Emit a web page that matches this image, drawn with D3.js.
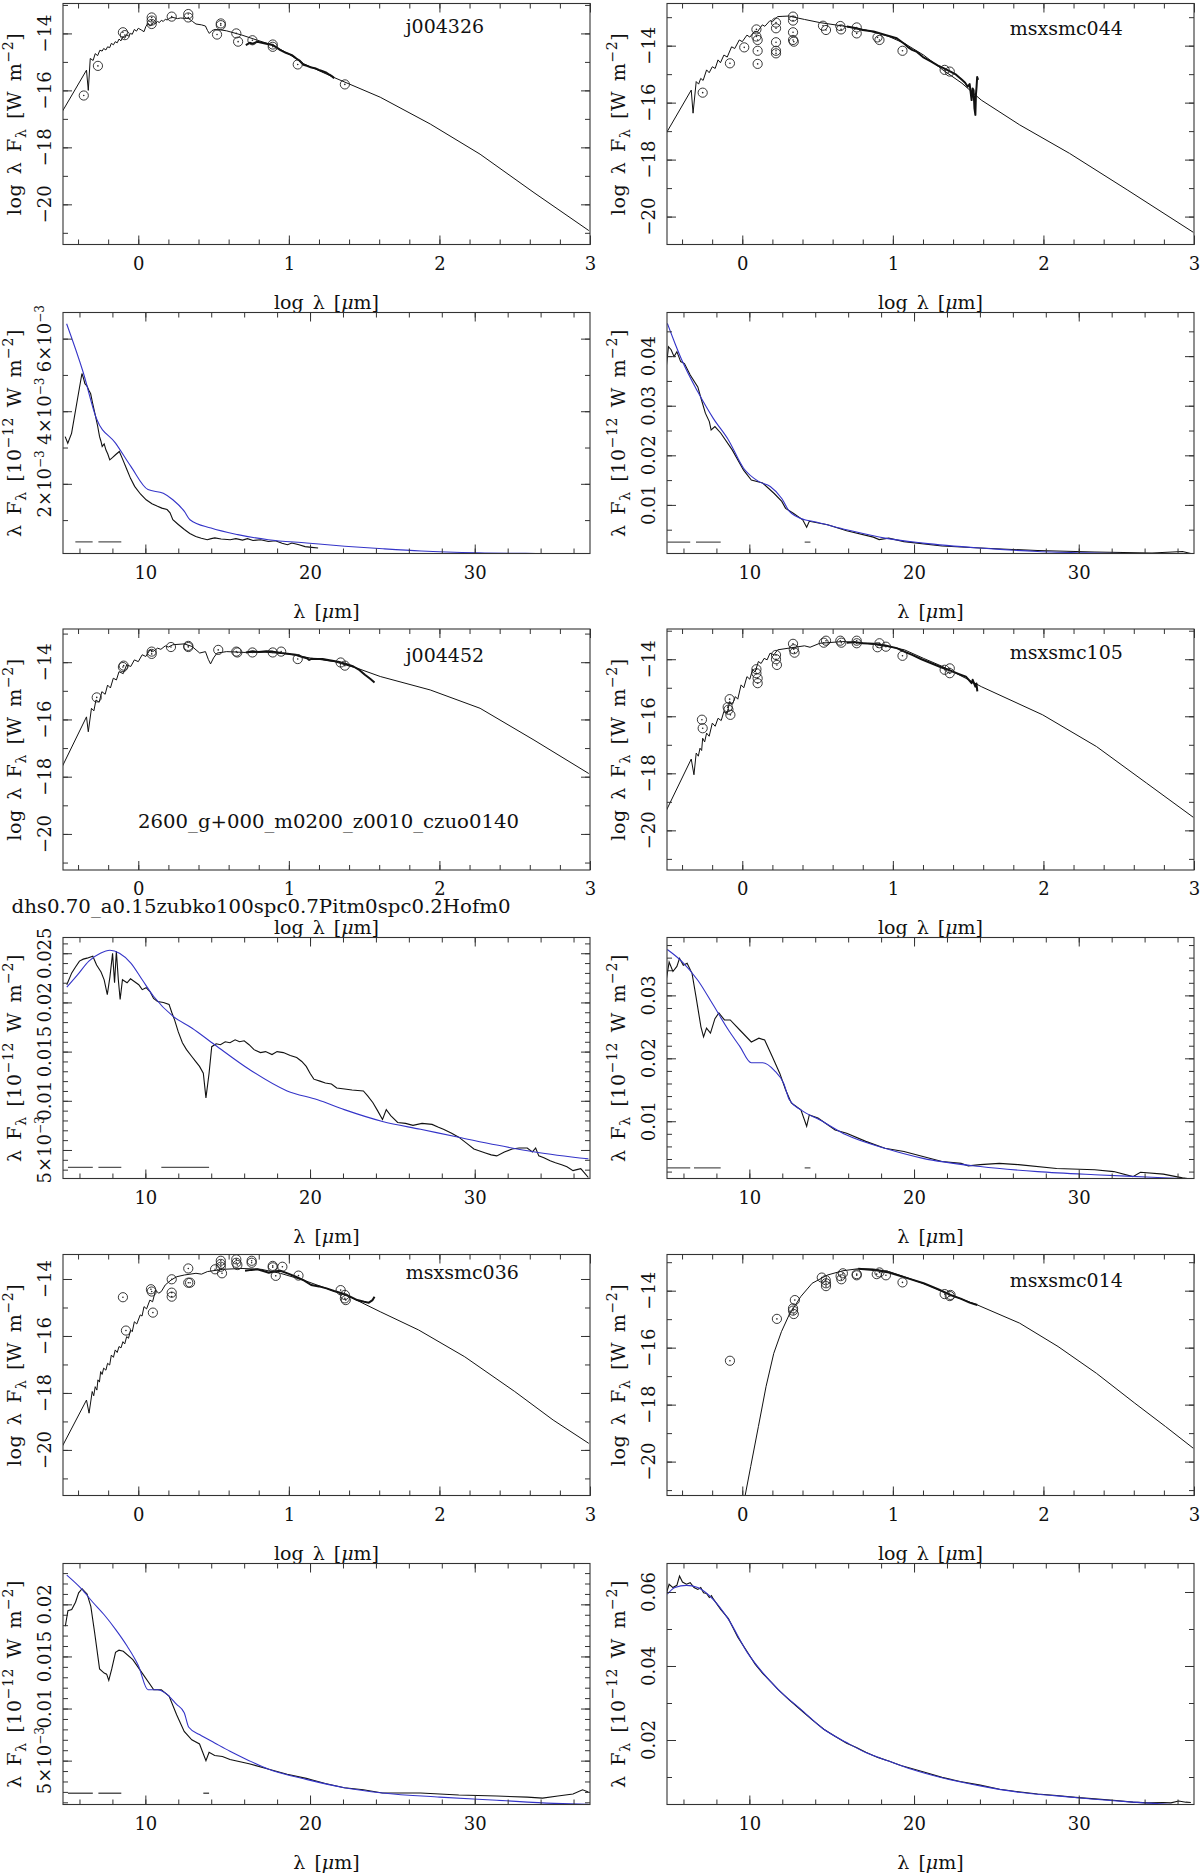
<!DOCTYPE html>
<html>
<head>
<meta charset="utf-8">
<script src="https://cdn.jsdelivr.net/npm/d3@7"></script>
<style>
  body { margin: 0; background: #fff; }
  svg text { font-family: "DejaVu Serif", serif; fill: #111; }
</style>
</head>
<body>
<div id="chart"></div>
<script>

// ---- j004326 ----
var sed_j004326_model = [[-0.52,-16.88],[-0.344,-15.29],[-0.332,-16.0],[-0.319,-14.88],[-0.30,-14.95],[-0.286,-14.71],[-0.27,-14.78],[-0.255,-14.59],[-0.24,-14.62],[-0.23,-14.53],[-0.215,-14.58],[-0.204,-14.47],[-0.19,-14.50],[-0.179,-14.35],[-0.165,-14.40],[-0.153,-14.29],[-0.14,-14.33],[-0.128,-14.20],[-0.115,-14.26],[-0.102,-14.12],[-0.09,-14.17],[-0.077,-14.04],[-0.065,-14.10],[-0.051,-14.0],[-0.04,-14.03],[-0.026,-13.86],[-0.012,-13.92],[0,-13.82],[0.02,-13.88],[0.038,-13.94],[0.05,-13.76],[0.064,-13.65],[0.075,-13.74],[0.089,-13.71],[0.10,-13.62],[0.115,-13.65],[0.128,-13.58],[0.14,-13.62],[0.153,-13.54],[0.166,-13.58],[0.18,-13.50],[0.191,-13.53],[0.21,-13.46],[0.23,-13.44],[0.26,-13.48],[0.281,-13.46],[0.31,-13.47],[0.332,-13.47],[0.36,-13.58],[0.383,-13.67],[0.42,-13.70],[0.446,-13.74],[0.46,-13.90],[0.472,-14.0],[0.49,-13.90],[0.51,-13.86],[0.55,-13.88],[0.587,-13.91],[0.689,-14.06],[0.791,-14.24],[0.893,-14.41],[0.995,-14.71],[1.097,-15.06],[1.301,-15.55],[1.607,-16.24],[1.939,-17.18],[2.27,-18.24],[2.628,-19.59],[2.992,-20.92]];
var sed_j004326_spec = [[0.714,-14.41],[0.74,-14.33],[0.76,-14.36],[0.791,-14.29],[0.82,-14.33],[0.85,-14.36],[0.893,-14.41],[0.92,-14.50],[0.944,-14.59],[0.98,-14.68],[1.02,-14.76],[1.05,-14.88],[1.07,-14.95],[1.097,-15.10],[1.12,-15.14],[1.15,-15.20],[1.173,-15.22],[1.20,-15.28],[1.22,-15.32],[1.25,-15.38],[1.27,-15.45],[1.285,-15.50],[1.301,-15.57]];
var sed_j004326_phot = [[-0.362,-16.18],[-0.268,-15.14],[-0.102,-13.96],[-0.089,-14.06],[0.089,-13.44],[0.089,-13.55],[0.089,-13.67],[0.222,-13.41],[0.332,-13.32],[0.332,-13.44],[0.523,-14.04],[0.548,-13.65],[0.548,-13.71],[0.651,-14.0],[0.663,-14.29],[0.758,-14.24],[0.893,-14.39],[0.893,-14.47],[1.059,-15.09],[1.372,-15.79]];
var irs_j004326_model = [[5.22,0.00641],[6.22,0.00508],[7.03,0.00380],[8.19,0.00312],[9.12,0.00248],[10.16,0.00184],[11.09,0.00174],[11.67,0.00156],[12.37,0.00124],[12.71,0.00101],[13.99,0.00078],[15.61,0.00060],[17.47,0.00046],[19.79,0.00037],[22.11,0.00028],[24.43,0.00021],[26.75,0.00015],[30.23,0.00010],[33.71,0.00008],[36.96,0.00007]];
var irs_j004326_spec = [[5.13,0.00330],[5.29,0.00312],[5.52,0.00339],[5.87,0.00431],[6.15,0.00504],[6.25,0.00490],[6.33,0.00476],[6.45,0.00470],[6.57,0.00458],[6.68,0.00448],[6.80,0.00422],[6.98,0.00385],[7.10,0.00360],[7.22,0.00330],[7.30,0.00318],[7.38,0.00303],[7.50,0.00310],[7.61,0.00293],[7.72,0.00282],[7.84,0.00266],[8.0,0.00272],[8.19,0.00280],[8.42,0.00289],[8.6,0.00270],[8.89,0.00238],[9.1,0.00215],[9.35,0.00193],[9.7,0.00172],[10.05,0.00156],[10.4,0.00145],[10.74,0.00138],[11.0,0.00133],[11.32,0.00129],[11.5,0.00120],[11.67,0.00101],[12.0,0.00088],[12.37,0.00074],[12.7,0.00063],[13.06,0.00055],[13.4,0.00050],[13.76,0.00046],[14.0,0.00049],[14.22,0.00051],[14.6,0.00048],[15.15,0.00046],[15.5,0.00049],[15.9,0.00045],[16.2,0.00049],[16.54,0.00044],[17.0,0.00046],[17.47,0.00041],[17.9,0.00043],[18.3,0.00036],[18.63,0.00032],[18.9,0.00037],[19.33,0.00032],[19.7,0.00027],[20.1,0.00025],[20.49,0.00023]];
var irs_j004326_bands = [[5.75,6.80],[7.15,8.54]];
var irs_j004326_bandLevel = 0.00040;

// ---- msxsmc044 ----
var sed_msxsmc044_model = [[-0.518,-17.19],[-0.339,-15.56],[-0.327,-16.37],[-0.306,-15.26],[-0.29,-15.35],[-0.276,-15.15],[-0.26,-15.22],[-0.237,-14.85],[-0.22,-14.95],[-0.199,-14.74],[-0.18,-14.80],[-0.161,-14.50],[-0.145,-14.60],[-0.122,-14.33],[-0.10,-14.40],[-0.071,-14.04],[-0.05,-14.10],[-0.02,-13.80],[0.0,-13.86],[0.031,-13.63],[0.05,-13.70],[0.082,-13.49],[0.10,-13.52],[0.133,-13.27],[0.15,-13.32],[0.184,-13.12],[0.20,-13.16],[0.235,-12.98],[0.27,-12.97],[0.311,-12.96],[0.36,-13.02],[0.413,-13.08],[0.515,-13.19],[0.668,-13.31],[0.821,-13.45],[0.974,-13.68],[1.077,-13.92],[1.204,-14.33],[1.332,-14.85],[1.459,-15.32],[1.587,-15.91],[1.842,-16.78],[2.173,-17.78],[2.556,-19.06],[2.995,-20.55]];
var sed_msxsmc044_spec = [[0.694,-13.33],[0.75,-13.38],[0.80,-13.45],[0.872,-13.50],[0.95,-13.62],[1.026,-13.74],[1.08,-13.95],[1.10,-14.05],[1.128,-14.15],[1.16,-14.22],[1.20,-14.40],[1.255,-14.56],[1.30,-14.70],[1.34,-14.80],[1.383,-14.91],[1.42,-15.02],[1.459,-15.20],[1.48,-15.30],[1.497,-15.44],[1.51,-15.35],[1.523,-15.91],[1.53,-15.50],[1.536,-15.56],[1.542,-16.20],[1.548,-16.43],[1.552,-15.70],[1.556,-15.44],[1.56,-15.10],[1.566,-15.20]];
var sed_msxsmc044_phot = [[-0.263,-15.65],[-0.082,-14.62],[0.013,-14.06],[0.094,-13.43],[0.094,-13.68],[0.102,-13.80],[0.102,-14.18],[0.102,-14.64],[0.224,-13.19],[0.224,-13.39],[0.224,-13.88],[0.224,-14.18],[0.224,-14.27],[0.337,-12.98],[0.337,-13.12],[0.337,-13.53],[0.337,-13.80],[0.342,-13.86],[0.536,-13.30],[0.556,-13.45],[0.651,-13.31],[0.656,-13.43],[0.76,-13.36],[0.76,-13.57],[0.898,-13.71],[0.911,-13.80],[1.064,-14.18],[1.344,-14.85],[1.378,-14.91]];
var irs_msxsmc044_model = [[5.02,0.0466],[5.48,0.0426],[5.94,0.0389],[6.87,0.0328],[7.80,0.0275],[8.73,0.0231],[9.65,0.0174],[10.58,0.0147],[11.27,0.0137],[11.97,0.0113],[12.43,0.0087],[13.36,0.0070],[13.82,0.0067],[15.91,0.0050],[18.23,0.0033],[20.54,0.0023],[24.02,0.0013],[27.50,0.0006],[30.97,0.0003],[36.81,0.0001]];
var irs_msxsmc044_spec = [[4.97,0.0382],[5.09,0.0419],[5.25,0.0413],[5.43,0.0399],[5.60,0.0409],[5.83,0.0389],[6.06,0.0385],[6.41,0.0362],[6.87,0.0338],[7.10,0.0311],[7.33,0.0285],[7.57,0.0268],[7.68,0.0251],[7.91,0.0258],[8.26,0.0245],[8.96,0.0211],[9.65,0.0170],[10.12,0.0150],[10.81,0.0144],[11.51,0.0123],[11.97,0.0107],[12.20,0.0093],[12.67,0.0083],[13.24,0.0070],[13.48,0.0055],[13.64,0.0067],[14.75,0.0060],[15.91,0.0048],[17.53,0.0035],[17.88,0.0030],[18.46,0.0033],[19.39,0.0026],[21.70,0.0017],[24.02,0.0013],[27.50,0.0008],[30.97,0.0005],[34.45,0.0003],[36.30,0.0006],[36.81,0.0002]];
var irs_msxsmc044_bands = [[5.02,6.41],[6.76,8.26],[13.36,13.71]];
var irs_msxsmc044_bandLevel = 0.0025;

// ---- j004452 ----
var sed_j004452_model = [[-0.523,-17.84],[-0.344,-15.91],[-0.332,-16.43],[-0.311,-15.61],[-0.295,-15.70],[-0.281,-15.32],[-0.26,-15.40],[-0.242,-15.03],[-0.22,-15.12],[-0.204,-14.80],[-0.185,-14.90],[-0.166,-14.56],[-0.145,-14.62],[-0.128,-14.33],[-0.10,-14.40],[-0.077,-14.09],[-0.05,-14.15],[-0.026,-13.92],[0.0,-13.98],[0.026,-13.74],[0.05,-13.80],[0.077,-13.57],[0.10,-13.62],[0.128,-13.51],[0.15,-13.55],[0.179,-13.43],[0.20,-13.47],[0.23,-13.39],[0.306,-13.36],[0.357,-13.45],[0.408,-13.68],[0.446,-13.63],[0.465,-13.90],[0.48,-14.06],[0.50,-13.85],[0.523,-13.68],[0.587,-13.63],[0.714,-13.66],[0.842,-13.65],[0.995,-13.71],[1.148,-13.86],[1.301,-13.98],[1.454,-14.21],[1.607,-14.50],[1.939,-14.97],[2.27,-15.61],[2.628,-16.72],[2.992,-17.89]];
var sed_j004452_spec = [[0.714,-13.66],[0.76,-13.62],[0.80,-13.64],[0.85,-13.62],[0.893,-13.63],[0.95,-13.68],[1.046,-13.74],[1.09,-13.82],[1.12,-13.86],[1.135,-13.92],[1.15,-13.88],[1.19,-13.89],[1.224,-13.89],[1.27,-13.93],[1.327,-13.98],[1.38,-14.06],[1.429,-14.15],[1.47,-14.28],[1.505,-14.44],[1.54,-14.58],[1.569,-14.71]];
var sed_j004452_phot = [[-0.276,-15.23],[-0.102,-14.17],[-0.097,-14.12],[0.089,-13.63],[0.089,-13.71],[0.217,-13.47],[0.332,-13.43],[0.332,-13.47],[0.531,-13.57],[0.651,-13.63],[0.658,-13.66],[0.758,-13.66],[0.893,-13.66],[0.949,-13.63],[1.059,-13.89],[1.344,-14.01],[1.372,-14.12]];
var irs_j004452_model = [[5.23,0.02155],[5.88,0.0228],[6.57,0.0242],[7.27,0.0250],[7.85,0.0253],[8.43,0.0250],[9.12,0.0240],[9.81,0.0223],[10.51,0.0206],[11.67,0.0186],[12.82,0.0174],[14.21,0.0157],[16.30,0.0132],[18.61,0.0110],[20.46,0.0101],[22.08,0.0091],[24.40,0.0079],[26.71,0.0071],[29.03,0.0063],[31.34,0.0055],[33.66,0.0048],[36.90,0.0041]];
var irs_j004452_spec = [[5.23,0.0218],[5.53,0.0230],[5.76,0.0236],[6.0,0.0242],[6.23,0.0244],[6.46,0.0245],[6.81,0.0247],[7.04,0.0238],[7.31,0.0231],[7.50,0.0223],[7.69,0.0208],[7.85,0.0226],[8.01,0.0250],[8.13,0.0220],[8.24,0.0252],[8.36,0.0223],[8.47,0.0203],[8.61,0.0223],[8.89,0.0220],[9.10,0.0224],[9.35,0.0221],[9.6,0.0218],[9.81,0.0213],[10.05,0.0215],[10.28,0.0211],[10.5,0.0204],[10.74,0.0201],[11.1,0.0200],[11.44,0.0198],[11.6,0.0190],[11.78,0.0182],[12.0,0.0170],[12.25,0.0159],[12.5,0.0152],[12.82,0.0145],[13.05,0.0140],[13.29,0.0135],[13.52,0.0128],[13.68,0.0103],[13.87,0.0128],[14.03,0.0155],[14.3,0.0158],[14.56,0.0157],[14.85,0.0160],[15.14,0.0159],[15.45,0.0162],[15.72,0.0160],[16.0,0.0161],[16.30,0.0157],[16.6,0.0152],[16.99,0.0149],[17.3,0.0150],[17.69,0.0147],[18.0,0.0150],[18.38,0.0149],[18.8,0.0146],[19.19,0.0144],[19.5,0.0140],[19.77,0.0135],[20.0,0.0128],[20.23,0.0122],[20.6,0.0120],[20.93,0.0118],[21.3,0.0117],[21.62,0.0113],[22.1,0.0112],[22.55,0.0111],[23.24,0.0110],[23.5,0.0105],[23.82,0.0098],[24.1,0.0090],[24.40,0.0081],[24.63,0.0091],[24.9,0.0085],[25.32,0.0078],[25.8,0.0077],[26.25,0.0075],[26.8,0.0077],[27.41,0.0076],[27.8,0.0073],[28.10,0.0071],[28.6,0.0067],[29.03,0.0063],[29.5,0.0057],[29.95,0.0051],[30.3,0.0049],[30.65,0.0047],[31.0,0.0045],[31.34,0.0044],[31.8,0.0048],[32.27,0.0051],[32.7,0.0052],[33.19,0.0052],[33.5,0.0048],[33.7,0.0052],[33.89,0.0044],[34.2,0.0042],[34.58,0.0039],[34.9,0.0037],[35.28,0.0035],[35.6,0.0033],[35.97,0.0029],[36.2,0.0030],[36.44,0.0031],[36.7,0.0026],[36.90,0.0022]];
var irs_j004452_bands = [[5.30,6.81],[7.15,8.54],[10.97,13.87]];
var irs_j004452_bandLevel = 0.00324;

// ---- msxsmc105 ----
var sed_msxsmc105_model = [[-0.518,-19.45],[-0.339,-17.50],[-0.321,-18.05],[-0.306,-17.29],[-0.292,-17.40],[-0.281,-17.12],[-0.27,-17.20],[-0.263,-16.77],[-0.25,-16.90],[-0.237,-16.59],[-0.22,-16.70],[-0.199,-16.24],[-0.18,-16.35],[-0.161,-16.07],[-0.14,-16.15],[-0.122,-15.83],[-0.10,-15.90],[-0.084,-15.48],[-0.065,-15.58],[-0.046,-15.31],[-0.03,-15.40],[-0.008,-14.90],[0.01,-15.0],[0.031,-14.61],[0.05,-14.70],[0.069,-14.35],[0.085,-14.45],[0.107,-14.08],[0.125,-14.15],[0.145,-13.97],[0.165,-14.02],[0.184,-13.79],[0.21,-13.84],[0.235,-13.67],[0.311,-13.61],[0.413,-13.53],[0.45,-13.58],[0.515,-13.44],[0.668,-13.38],[0.821,-13.44],[0.974,-13.56],[1.077,-13.67],[1.204,-13.97],[1.332,-14.26],[1.485,-14.67],[1.587,-14.96],[1.995,-15.95],[2.352,-17.06],[2.684,-18.34],[2.995,-19.54]];
var sed_msxsmc105_spec = [[0.694,-13.42],[0.75,-13.40],[0.80,-13.44],[0.872,-13.46],[0.95,-13.52],[1.026,-13.61],[1.08,-13.74],[1.128,-13.85],[1.19,-14.0],[1.255,-14.14],[1.32,-14.28],[1.383,-14.40],[1.44,-14.52],[1.485,-14.61],[1.50,-14.70],[1.523,-14.84],[1.53,-14.72],[1.548,-14.96],[1.555,-14.85],[1.561,-15.13]];
var sed_msxsmc105_phot = [[-0.268,-16.12],[-0.263,-16.42],[-0.097,-15.68],[-0.092,-15.77],[-0.084,-15.40],[-0.079,-15.95],[0.094,-14.35],[0.094,-14.49],[0.102,-14.67],[0.102,-14.84],[0.224,-13.85],[0.224,-14.0],[0.23,-14.20],[0.337,-13.46],[0.342,-13.65],[0.347,-13.77],[0.541,-13.42],[0.556,-13.35],[0.651,-13.35],[0.658,-13.42],[0.76,-13.35],[0.76,-13.44],[0.898,-13.58],[0.911,-13.44],[0.954,-13.56],[1.064,-13.88],[1.344,-14.37],[1.378,-14.32],[1.378,-14.49]];
var irs_msxsmc105_model = [[5.02,0.0373],[5.94,0.0353],[6.87,0.0324],[7.80,0.0285],[8.73,0.0245],[9.42,0.0219],[10.12,0.0193],[10.81,0.0193],[11.51,0.0181],[12.09,0.0160],[12.43,0.0134],[13.13,0.0118],[14.29,0.0102],[15.91,0.0078],[18.23,0.0057],[20.54,0.0041],[24.02,0.0028],[27.50,0.0020],[30.97,0.0015],[34.45,0.0011],[36.81,0.0008]];
var irs_msxsmc105_spec = [[4.97,0.0327],[5.13,0.0353],[5.36,0.0338],[5.60,0.0346],[5.76,0.0359],[5.99,0.0348],[6.22,0.0351],[6.52,0.0335],[6.76,0.0298],[7.06,0.0250],[7.22,0.0234],[7.40,0.0248],[7.64,0.0240],[7.91,0.0263],[8.15,0.0272],[8.49,0.0261],[8.84,0.0261],[9.42,0.0245],[10.12,0.0226],[10.58,0.0232],[10.93,0.0229],[11.39,0.0203],[11.85,0.0176],[12.20,0.0150],[12.55,0.0129],[13.13,0.0118],[13.48,0.0092],[13.64,0.0110],[14.17,0.0105],[15.21,0.0086],[15.91,0.0081],[17.07,0.0068],[18.23,0.0057],[19.39,0.0052],[20.54,0.0044],[21.70,0.0036],[22.86,0.0033],[23.3,0.0029],[24.02,0.0031],[25.18,0.0033],[26.34,0.0031],[28.66,0.0025],[30.97,0.0023],[32.13,0.0020],[33.29,0.0012],[33.75,0.0019],[35.14,0.0016],[36.30,0.0010],[36.81,0.0008]];
var irs_msxsmc105_bands = [[5.02,6.41],[6.64,8.26],[13.36,13.71]];
var irs_msxsmc105_bandLevel = 0.00259;

// ---- msxsmc036 ----
var sed_msxsmc036_model = [[-0.523,-20.06],[-0.344,-18.25],[-0.327,-18.71],[-0.306,-17.95],[-0.296,-18.10],[-0.286,-17.78],[-0.275,-17.90],[-0.268,-17.54],[-0.258,-17.62],[-0.25,-17.25],[-0.24,-17.35],[-0.23,-17.13],[-0.215,-17.20],[-0.204,-16.96],[-0.19,-17.02],[-0.179,-16.67],[-0.165,-16.75],[-0.153,-16.49],[-0.14,-16.58],[-0.128,-16.37],[-0.115,-16.42],[-0.102,-16.20],[-0.09,-16.28],[-0.077,-16.02],[-0.065,-16.08],[-0.051,-15.79],[-0.04,-15.85],[-0.026,-15.50],[-0.01,-15.58],[0.013,-15.26],[0.025,-15.30],[0.038,-14.97],[0.055,-15.05],[0.077,-14.74],[0.095,-14.80],[0.115,-14.39],[0.135,-14.50],[0.153,-14.44],[0.179,-14.21],[0.217,-14.04],[0.255,-13.92],[0.306,-13.86],[0.383,-13.80],[0.42,-13.83],[0.459,-13.74],[0.561,-13.66],[0.689,-13.63],[0.816,-13.66],[0.944,-13.80],[1.097,-14.04],[1.25,-14.33],[1.403,-14.62],[1.607,-15.15],[1.862,-15.79],[2.168,-16.73],[2.5,-17.95],[2.755,-18.95],[2.992,-19.77]];
var sed_msxsmc036_spec = [[0.709,-13.71],[0.75,-13.68],[0.791,-13.66],[0.83,-13.72],[0.867,-13.78],[0.90,-13.74],[0.944,-13.71],[1.0,-13.82],[1.046,-13.92],[1.10,-14.05],[1.148,-14.21],[1.20,-14.26],[1.25,-14.33],[1.30,-14.42],[1.352,-14.50],[1.40,-14.60],[1.454,-14.74],[1.50,-14.80],[1.531,-14.83],[1.556,-14.74],[1.569,-14.62]];
var sed_msxsmc036_phot = [[-0.102,-14.64],[-0.082,-15.81],[0.084,-14.36],[0.089,-14.44],[0.097,-15.18],[0.222,-14.01],[0.222,-14.48],[0.222,-14.62],[0.332,-13.63],[0.332,-14.13],[0.344,-14.13],[0.51,-13.66],[0.548,-13.36],[0.548,-13.47],[0.548,-13.57],[0.556,-13.80],[0.651,-13.31],[0.651,-13.43],[0.658,-13.51],[0.753,-13.36],[0.753,-13.43],[0.893,-13.54],[0.893,-13.59],[0.913,-13.89],[0.957,-13.57],[1.064,-13.88],[1.344,-14.39],[1.372,-14.56],[1.372,-14.68],[1.378,-14.74]];
var irs_msxsmc036_model = [[5.23,0.0228],[6.11,0.0215],[6.81,0.0202],[7.50,0.0190],[8.19,0.0176],[8.89,0.0160],[9.58,0.0141],[10.16,0.0118],[10.74,0.0118],[11.20,0.0115],[11.90,0.0104],[12.36,0.0096],[12.64,0.0082],[13.29,0.0075],[14.21,0.0067],[15.14,0.0059],[16.30,0.0050],[17.45,0.0042],[19.77,0.0032],[22.08,0.0024],[24.40,0.0019],[27.87,0.0015],[31.34,0.0012],[34.81,0.0009],[36.90,0.0008]];
var irs_msxsmc036_spec = [[5.14,0.0179],[5.30,0.0194],[5.53,0.0195],[5.76,0.0202],[5.95,0.0211],[6.16,0.0215],[6.46,0.0210],[6.69,0.0198],[6.92,0.0173],[7.22,0.0138],[7.50,0.0134],[7.65,0.0133],[7.78,0.0127],[7.96,0.0138],[8.19,0.0154],[8.4,0.0156],[8.66,0.0155],[9.24,0.0147],[9.81,0.0134],[10.51,0.0118],[10.97,0.0118],[11.44,0.0112],[11.90,0.0094],[12.36,0.0078],[12.82,0.0070],[13.29,0.0066],[13.68,0.0050],[13.87,0.0058],[14.21,0.0055],[14.68,0.0054],[15.14,0.0051],[16.30,0.0047],[17.45,0.0042],[18.61,0.0037],[19.77,0.0033],[20.93,0.0028],[22.08,0.0024],[23.24,0.0022],[24.40,0.0019],[26.71,0.0019],[29.03,0.0017],[31.34,0.0016],[33.19,0.0015],[34.12,0.0014],[35.05,0.0016],[35.97,0.0018],[36.55,0.0022],[36.90,0.0020]];
var irs_msxsmc036_bands = [[5.30,6.81],[7.15,8.54],[13.52,13.87]];
var irs_msxsmc036_bandLevel = 0.00187;

// ---- msxsmc014 ----
var sed_msxsmc014_model = [[0.018,-21.22],[0.056,-20.17],[0.107,-18.77],[0.158,-17.36],[0.209,-16.20],[0.26,-15.44],[0.311,-14.85],[0.388,-14.21],[0.464,-13.74],[0.566,-13.45],[0.668,-13.30],[0.77,-13.23],[0.872,-13.24],[0.974,-13.33],[1.077,-13.51],[1.23,-13.80],[1.383,-14.15],[1.561,-14.50],[1.842,-15.14],[2.097,-15.96],[2.352,-16.90],[2.607,-17.95],[2.811,-18.77],[2.995,-19.53]];
var sed_msxsmc014_spec = [[0.77,-13.23],[0.87,-13.27],[0.974,-13.36],[1.09,-13.55],[1.204,-13.74],[1.30,-13.95],[1.383,-14.15],[1.45,-14.28],[1.51,-14.42],[1.54,-14.47],[1.561,-14.50]];
var sed_msxsmc014_phot = [[-0.082,-16.46],[0.23,-14.99],[0.337,-14.62],[0.337,-14.70],[0.342,-14.82],[0.349,-14.33],[0.528,-13.54],[0.554,-13.63],[0.556,-13.74],[0.556,-13.84],[0.653,-13.49],[0.658,-13.60],[0.668,-13.39],[0.76,-13.42],[0.76,-13.46],[0.893,-13.42],[0.911,-13.36],[0.954,-13.46],[1.064,-13.71],[1.344,-14.12],[1.378,-14.19],[1.383,-14.15]];
var irs_msxsmc014_model = [[5.02,0.0594],[5.48,0.0612],[6.18,0.0618],[6.87,0.0612],[7.80,0.0580],[8.73,0.0526],[9.88,0.0436],[10.81,0.0382],[11.74,0.0337],[13.13,0.0283],[14.52,0.0229],[15.91,0.0193],[17.07,0.0166],[18.46,0.0143],[19.85,0.0121],[21.70,0.0098],[24.02,0.0076],[26.34,0.0059],[28.66,0.0049],[30.97,0.0040],[33.29,0.0032],[36.81,0.0023]];
var irs_msxsmc014_spec = [[4.97,0.0598],[5.13,0.0621],[5.36,0.0612],[5.60,0.0618],[5.76,0.0643],[5.94,0.0627],[6.18,0.0621],[6.41,0.0625],[6.64,0.0612],[6.87,0.0607],[7.05,0.0612],[7.22,0.0598],[7.40,0.0596],[7.57,0.0585],[7.70,0.0590],[7.80,0.0582],[8.26,0.0553],[8.73,0.0528],[9.3,0.0478],[9.88,0.0438],[10.35,0.0405],[10.81,0.0380],[11.3,0.0358],[11.74,0.0337],[12.4,0.0309],[13.13,0.0281],[13.8,0.0255],[14.52,0.0229],[15.2,0.0210],[15.91,0.0191],[16.5,0.0180],[17.07,0.0167],[17.8,0.0153],[18.46,0.0143],[19.2,0.0131],[19.85,0.0123],[20.7,0.0112],[21.70,0.0099],[22.8,0.0088],[24.02,0.0078],[25.2,0.0067],[26.34,0.0060],[27.5,0.0054],[28.66,0.0050],[29.8,0.0045],[30.97,0.0041],[32.1,0.0037],[33.29,0.0032],[34.2,0.0030],[35.14,0.0031],[35.6,0.0030],[36.07,0.0035],[36.5,0.0032],[36.81,0.0031]];
var irs_msxsmc014_bands = [];
var irs_msxsmc014_bandLevel = 0;

// model annotation printed under the j004452 SED
var j004452_stellarModel = "2600_g+000_m0200_z0010_czuo0140";
var j004452_dustModel = "dhs0.70_a0.15zubko100spc0.7Pitm0spc0.2Hofm0";

// axis ranges
var sedX = [-0.5, 3];
var irsX = [5, 37];

var sources = [
    {name: 'j004326',   col: 0, row: 0, sedY: [-21.41, -12.95], irsY: [0.00008, 0.00672], irsMajor: 0.002, irsMinor: 0.001, labelDy: 29.5},
    {name: 'msxsmc044', col: 1, row: 0, sedY: [-20.98, -12.52], irsY: [0.0002, 0.0488],   irsMajor: 0.01,  irsMinor: 0.005, labelDy: 31},
    {name: 'j004452',   col: 0, row: 1, sedY: [-21.26, -12.84], irsY: [0.0021, 0.0266],   irsMajor: 0.005, irsMinor: 0.001, labelDy: 32.7},
    {name: 'msxsmc105', col: 1, row: 1, sedY: [-21.39, -12.94], irsY: [0.0009, 0.0392],   irsMajor: 0.01,  irsMinor: 0.002, labelDy: 30},
    {name: 'msxsmc036', col: 0, row: 2, sedY: [-21.60, -13.14], irsY: [0.00079, 0.02392], irsMajor: 0.005, irsMinor: 0.001, labelDy: 24.5},
    {name: 'msxsmc014', col: 1, row: 2, sedY: [-21.19, -12.73], irsY: [0.00257, 0.0677],  irsMajor: 0.02,  irsMinor: 0.01,  labelDy: 32.2}
];

var seriesFor = {
    j004326:   {model: sed_j004326_model, spec: sed_j004326_spec, phot: sed_j004326_phot, irsModel: irs_j004326_model, irsSpec: irs_j004326_spec, bands: irs_j004326_bands, bandLevel: irs_j004326_bandLevel},
    msxsmc044: {model: sed_msxsmc044_model, spec: sed_msxsmc044_spec, phot: sed_msxsmc044_phot, irsModel: irs_msxsmc044_model, irsSpec: irs_msxsmc044_spec, bands: irs_msxsmc044_bands, bandLevel: irs_msxsmc044_bandLevel},
    j004452:   {model: sed_j004452_model, spec: sed_j004452_spec, phot: sed_j004452_phot, irsModel: irs_j004452_model, irsSpec: irs_j004452_spec, bands: irs_j004452_bands, bandLevel: irs_j004452_bandLevel},
    msxsmc105: {model: sed_msxsmc105_model, spec: sed_msxsmc105_spec, phot: sed_msxsmc105_phot, irsModel: irs_msxsmc105_model, irsSpec: irs_msxsmc105_spec, bands: irs_msxsmc105_bands, bandLevel: irs_msxsmc105_bandLevel},
    msxsmc036: {model: sed_msxsmc036_model, spec: sed_msxsmc036_spec, phot: sed_msxsmc036_phot, irsModel: irs_msxsmc036_model, irsSpec: irs_msxsmc036_spec, bands: irs_msxsmc036_bands, bandLevel: irs_msxsmc036_bandLevel},
    msxsmc014: {model: sed_msxsmc014_model, spec: sed_msxsmc014_spec, phot: sed_msxsmc014_phot, irsModel: irs_msxsmc014_model, irsSpec: irs_msxsmc014_spec, bands: irs_msxsmc014_bands, bandLevel: irs_msxsmc014_bandLevel}
};

// layout
var full_width = 1200, full_height = 1876;
var width = 527, height = 241;
var colLeft = [63, 667];
var rowTop = [3.5, 312.5, 629, 937.5, 1254.5, 1563.5];
var BLUE = "#3434c8";

var svg = d3.select("#chart").append("svg")
    .attr("width", full_width)
    .attr("height", full_height);

function stepValues(domain, step) {
    var lo = Math.min(domain[0], domain[1]), hi = Math.max(domain[0], domain[1]);
    var out = [];
    for (var k = Math.ceil(lo / step - 1e-6); k <= Math.floor(hi / step + 1e-6); k++) {
        out.push(+(k * step).toFixed(6));
    }
    return out;
}

// PGPLOT-like frame: inward ticks on all four sides
function drawFrame(g, x, y, xMajor, xMinor, yMajor, yMinor) {
    var sides = [
        [d3.axisBottom, x, "translate(0," + height + ")"],
        [d3.axisTop, x, "translate(0,0)"],
        [d3.axisLeft, y, "translate(0,0)"],
        [d3.axisRight, y, "translate(" + width + ",0)"]
    ];
    sides.forEach(function(s, i) {
        var major = i < 2 ? xMajor : yMajor,
            minor = i < 2 ? xMinor : yMinor;
        [[minor, -5], [major, -9]].forEach(function(t) {
            var a = g.append("g")
                .attr("transform", s[2])
                .call(s[0](s[1]).tickValues(t[0]).tickSize(t[1]).tickFormat(""));
            a.select(".domain").remove();
            a.selectAll("line").attr("stroke", "#333").attr("stroke-width", 1);
        });
    });
    g.append("rect")
        .attr("width", width).attr("height", height)
        .attr("fill", "none").attr("stroke", "#333").attr("stroke-width", 1.1);
}

function xLabels(g, x, values) {
    var a = g.append("g")
        .attr("transform", "translate(0," + height + ")")
        .call(d3.axisBottom(x).tickValues(values).tickSize(0).tickPadding(12.5).tickFormat(d3.format("d")));
    a.select(".domain").remove();
    a.attr("font-family", "DejaVu Serif").attr("font-size", 18);
    a.selectAll("text").attr("fill", "#111");
}

function yLabels(g, y, values, fmt) {
    values.forEach(function(v) {
        var t = g.append("text")
            .attr("transform", "translate(-12.5," + y(v) + ") rotate(-90)")
            .attr("text-anchor", "middle")
            .attr("font-size", 18);
        fmt(t, v);
    });
}

function sedFmt(t, v) {
    t.text("\u2212" + Math.abs(v));
}

function irsFmt(t, v) {
    if (v < 0.0099) {
        t.append("tspan").text(Math.round(v * 1000) + "\u00d710");
        t.append("tspan").attr("font-size", 12).attr("dy", -7).text("\u22123");
    } else {
        t.text(String(+v.toFixed(3)));
    }
}

// rotated title with sub/superscript pieces
function yTitle(g, parts) {
    var t = g.append("text")
        .attr("transform", "translate(-42," + (height / 2) + ") rotate(-90)")
        .attr("text-anchor", "middle")
        .attr("font-size", 19)
        .attr("letter-spacing", 0.6)
        .attr("word-spacing", 3);
    parts.forEach(function(p) {
        var s = t.append("tspan").text(p[0]);
        if (p[1] === "sub") s.attr("font-size", 14).attr("dy", 5);
        if (p[1] === "sup") s.attr("font-size", 14).attr("dy", -8);
        if (p[2]) s.attr("dy", p[2]);
    });
}

function xTitle(g, pre) {
    var t = g.append("text")
        .attr("x", width / 2).attr("y", height + 64)
        .attr("text-anchor", "middle")
        .attr("font-size", 19)
        .attr("word-spacing", 3);
    t.append("tspan").text(pre + "[");
    t.append("tspan").attr("font-style", "italic").text("\u03bc");
    t.append("tspan").text("m]");
}

var lineGen = function(x, y, curve) {
    return d3.line()
        .x(function(d) { return x(d[0]); })
        .y(function(d) { return y(d[1]); })
        .curve(curve || d3.curveLinear);
};

sources.forEach(function(src, si) {
    var data = seriesFor[src.name];
    var left = colLeft[src.col];

    // ---------- SED panel (log) ----------
    var gS = svg.append("g")
        .attr("transform", "translate(" + left + "," + rowTop[src.row * 2] + ")");
    var xS = d3.scaleLinear().domain(sedX).range([0, width]);
    var yS = d3.scaleLinear().domain(src.sedY).range([height, 0]);

    var clipS = "clipS" + si;
    gS.append("clipPath").attr("id", clipS)
        .append("rect").attr("width", width).attr("height", height);
    var plotS = gS.append("g").attr("clip-path", "url(#" + clipS + ")");

    plotS.append("path")
        .datum(data.model)
        .attr("d", lineGen(xS, yS))
        .attr("fill", "none").attr("stroke", "#111").attr("stroke-width", 1);

    plotS.append("path")
        .datum(data.spec)
        .attr("d", lineGen(xS, yS))
        .attr("fill", "none").attr("stroke", "#111").attr("stroke-width", 2)
        .attr("stroke-linejoin", "round");

    var dots = plotS.selectAll("g.phot")
        .data(data.phot)
        .enter().append("g")
        .attr("class", "phot")
        .attr("transform", function(d) { return "translate(" + xS(d[0]) + "," + yS(d[1]) + ")"; });
    dots.append("circle").attr("r", 4.6)
        .attr("fill", "none").attr("stroke", "#222").attr("stroke-width", 0.9);
    dots.append("circle").attr("r", 0.8).attr("fill", "#222");

    drawFrame(gS, xS,  yS,
        stepValues(sedX, 1), stepValues(sedX, 0.2),
        stepValues(src.sedY, 2), stepValues(src.sedY, 1));
    xLabels(gS, xS, stepValues(sedX, 1));
    yLabels(gS, yS, stepValues(src.sedY, 2), sedFmt);
    yTitle(gS, [["log \u03bb F"], ["\u03bb", "sub"], [" [W m", null, -5], ["\u22122", "sup"], ["]", null, 8]]);
    xTitle(gS, "log \u03bb ");

    gS.append("text")
        .attr("x", 342.7).attr("y", src.labelDy)
        .attr("font-size", 19)
        .text(src.name);

    if (src.name === 'j004452') {
        gS.append("text")
            .attr("x", width / 2 + 2).attr("y", 199)
            .attr("text-anchor", "middle")
            .attr("font-size", 18)
            .attr("textLength", 381).attr("lengthAdjust", "spacingAndGlyphs")
            .text(j004452_stellarModel);
        gS.append("text")
            .attr("x", 11.5 - left).attr("y", 284)
            .attr("font-size", 18)
            .attr("textLength", 499).attr("lengthAdjust", "spacingAndGlyphs")
            .text(j004452_dustModel);
    }

    // ---------- IRS panel (linear) ----------
    var gI = svg.append("g")
        .attr("transform", "translate(" + left + "," + rowTop[src.row * 2 + 1] + ")");
    var xI = d3.scaleLinear().domain(irsX).range([0, width]);
    var yI = d3.scaleLinear().domain(src.irsY).range([height, 0]);

    var clipI = "clipI" + si;
    gI.append("clipPath").attr("id", clipI)
        .append("rect").attr("width", width).attr("height", height);
    var plotI = gI.append("g").attr("clip-path", "url(#" + clipI + ")");

    plotI.selectAll("line.band")
        .data(data.bands)
        .enter().append("line")
        .attr("class", "band")
        .attr("x1", function(d) { return xI(d[0]); })
        .attr("x2", function(d) { return xI(d[1]); })
        .attr("y1", yI(data.bandLevel)).attr("y2", yI(data.bandLevel))
        .attr("stroke", "#555").attr("stroke-width", 1.3);

    plotI.append("path")
        .datum(data.irsSpec)
        .attr("d", lineGen(xI, yI))
        .attr("fill", "none").attr("stroke", "#111").attr("stroke-width", 1.1);

    plotI.append("path")
        .datum(data.irsModel)
        .attr("d", lineGen(xI, yI, d3.curveMonotoneX))
        .attr("fill", "none").attr("stroke", BLUE).attr("stroke-width", 1.1);

    drawFrame(gI, xI, yI,
        stepValues(irsX, 10).filter(function(v) { return v > 0; }), stepValues(irsX, 2),
        stepValues(src.irsY, src.irsMajor).filter(function(v) { return v > 0; }),
        stepValues(src.irsY, src.irsMinor).filter(function(v) { return v > 0; }));
    xLabels(gI, xI, [10, 20, 30]);
    yLabels(gI, yI, stepValues(src.irsY, src.irsMajor).filter(function(v) { return v > 0; }), irsFmt);
    yTitle(gI, [["\u03bb F"], ["\u03bb", "sub"], [" [10", null, -5], ["\u221212", "sup"], [" W m", null, 8], ["\u22122", "sup"], ["]", null, 8]]);
    xTitle(gI, "\u03bb ");
});

</script>
</body>
</html>
